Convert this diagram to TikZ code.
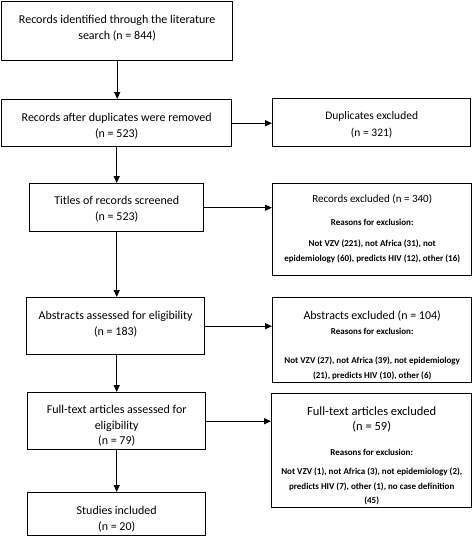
\documentclass[tikz,border=0pt]{standalone}
\usepackage{fontspec}
\setmainfont{Carlito}
\usetikzlibrary{arrows.meta,positioning}

\tikzset{
  box/.style={draw, line width=1.4pt, anchor=north west, inner sep=0pt},
  txt/.style={anchor=north, align=center, inner sep=0pt, font=\fontsize{12}{15.5}\selectfont},
  reason/.style={anchor=north, align=center, inner sep=0pt, font=\fontsize{9}{14.5}\selectfont\bfseries},
  arr/.style={-{Triangle[length=7pt,width=6pt]}, line width=1.2pt}
}

\begin{document}
\begin{tikzpicture}[x=1pt, y=-1pt]
\useasboundingbox (0,0) rectangle (473,536);

% left column
\node[box, minimum width=231pt, minimum height=59pt] (search) at (1,1) {};
\node[box, minimum width=230pt, minimum height=47pt] (dedup) at (1,99) {};
\node[box, minimum width=174pt, minimum height=48pt] (titles) at (29,183) {};
\node[box, minimum width=178pt, minimum height=57pt] (abstracts) at (26,297) {};
\node[box, minimum width=178pt, minimum height=57pt] (fulltext) at (27,392) {};
\node[box, minimum width=178pt, minimum height=43pt] (included) at (27,492) {};

\node[txt] (searcht) at ([yshift=-14pt]search.north) {Records identified through the literature\\search (n = 844)};
\node[txt] (dedupt) at ([yshift=-14pt]dedup.north) {Records after duplicates were removed\\(n = 523)};
\node[txt] (titlest) at ([yshift=-13pt]titles.north) {Titles of records screened\\(n = 523)};
\node[txt] (abstractst) at ([yshift=-14pt]abstracts.north) {Abstracts assessed for eligibility\\(n = 183)};
\node[txt] (fulltextt) at ([yshift=-13pt]fulltext.north) {Full-text articles assessed for\\eligibility\\(n = 79)};
\node[txt] (includedt) at ([yshift=-14pt]included.north) {Studies included\\(n = 20)};

% right column
\node[box, minimum width=198pt, minimum height=48pt] (dupex) at (272,98) {};
\node[box, minimum width=199pt, minimum height=92pt] (recex) at (272,183) {};
\node[box, minimum width=199pt, minimum height=85pt] (absex) at (272,297) {};
\node[box, minimum width=200pt, minimum height=114pt] (fullex) at (271,393) {};

\node[txt, font=\fontsize{11.5}{17}\selectfont] (dupext) at ([yshift=-13pt]dupex.north) {Duplicates excluded\\(n = 321)};

\node[txt, font=\fontsize{11}{15}\selectfont] (recext) at ([yshift=-11pt]recex.north) {Records excluded (n = 340)};
\node[reason] (recexr) at ([yshift=-36pt]recex.north) {Reasons for exclusion:};
\node[reason] (recexd) at ([yshift=-57pt]recex.north) {Not VZV (221), not Africa (31), not\\epidemiology (60), predicts HIV (12), other (16)};

\node[txt] (absext) at ([yshift=-14pt]absex.north) {Abstracts excluded (n = 104)};
\node[reason] (absexr) at ([yshift=-31pt]absex.north) {Reasons for exclusion:};
\node[reason] (absexd) at ([yshift=-60pt]absex.north) {Not VZV (27), not Africa (39), not epidemiology\\(21), predicts HIV (10), other (6)};

\node[txt, font=\fontsize{12.5}{14.5}\selectfont] (fullext) at ([yshift=-14pt]fullex.north) {Full-text articles excluded\\(n = 59)};
\node[reason] (fullexr) at ([yshift=-56pt]fullex.north) {Reasons for exclusion:};
\node[reason] (fullexd) at ([yshift=-75pt]fullex.north) {Not VZV (1), not Africa (3), not epidemiology (2),\\predicts HIV (7), other (1), no case definition\\(45)};

% arrows
\draw[arr] (search.south) -- (dedup.north -| search.south);
\draw[arr] (dedup.south -| titles.north) -- (titles.north);
\draw[arr] (titles.south) -- (abstracts.north -| titles.south);
\draw[arr] (abstracts.south -| titles.south) -- (fulltext.north -| titles.south);
\draw[arr] (fulltext.south -| titles.south) -- (included.north -| titles.south);

\draw[arr] (dedup.east) -- (dupex.west |- dedup.east);
\draw[arr] (titles.east) -- (recex.west |- titles.east);
\draw[arr] (abstracts.east) -- (absex.west |- abstracts.east);
\draw[arr] (fulltext.east) -- (fullex.west |- fulltext.east);

\end{tikzpicture}
\end{document}
